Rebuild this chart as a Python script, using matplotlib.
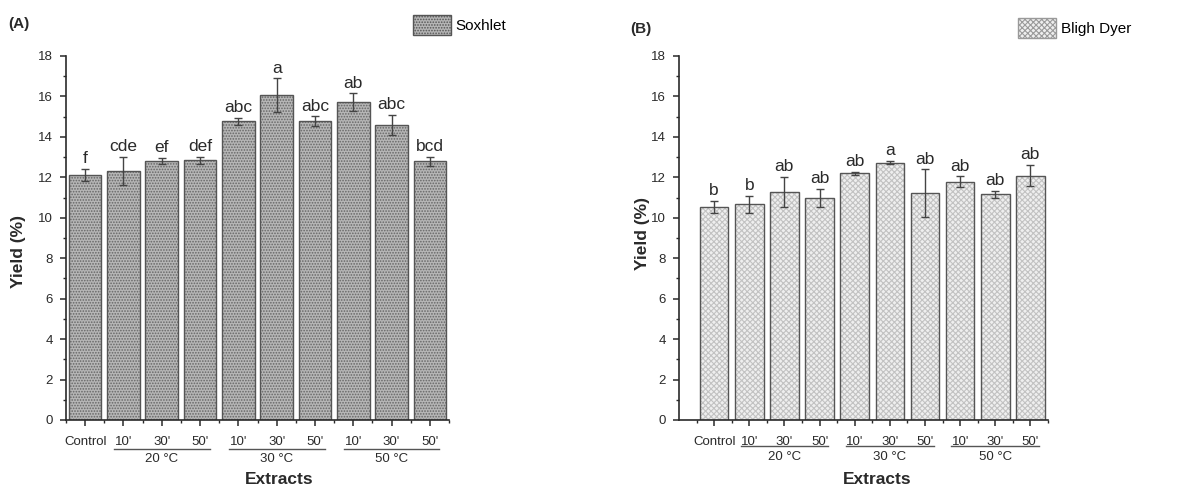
import numpy as np
import matplotlib
matplotlib.use("Agg")
import matplotlib.pyplot as plt
from matplotlib.patches import Patch
from matplotlib.ticker import MultipleLocator
import matplotlib.transforms as mtransforms

plt.rcParams['font.family'] = ['Liberation Sans', 'DejaVu Sans']
plt.rcParams['hatch.linewidth'] = 0.8

# extract labels (shared by both panels)
tick_labels = ["Control", "10'", "30'", "50'", "10'", "30'", "50'", "10'", "30'", "50'"]
groups = ["20 °C", "30 °C", "50 °C"]

# (A) Soxhlet yield, %
soxhlet_yield = [12.1, 12.3, 12.8, 12.85, 14.77, 16.07, 14.77, 15.72, 14.6, 12.8]
soxhlet_err = [0.3, 0.7, 0.16, 0.18, 0.16, 0.82, 0.24, 0.43, 0.5, 0.22]
soxhlet_letters = ["f", "cde", "ef", "def", "abc", "a", "abc", "ab", "abc", "bcd"]

# (B) Bligh Dyer yield, %
bligh_yield = [10.52, 10.66, 11.27, 10.98, 12.2, 12.73, 11.22, 11.79, 11.16, 12.08]
bligh_err = [0.3, 0.43, 0.75, 0.44, 0.07, 0.08, 1.17, 0.26, 0.18, 0.52]
bligh_letters = ["b", "b", "ab", "ab", "ab", "a", "ab", "ab", "ab", "ab"]

DARK = "#2a2a2a"


def draw_panel(ax, values, errors, letters, face, hatch, hatch_color, legend_edge,
               width, xmin, line_y, group_y, legend_name, legend_anchor):
    x = np.arange(1, len(values) + 1)
    # hatched fill first, then a plain outline on top
    ax.bar(x, values, width, color=face, edgecolor=hatch_color, hatch=hatch, linewidth=0)
    ax.bar(x, values, width, fill=False, edgecolor="#555555", linewidth=1.0)
    ax.errorbar(x, values, yerr=errors, fmt="none", ecolor="#444444", elinewidth=1.0,
                capsize=3, capthick=1.0)
    for xi, v, e, s in zip(x, values, errors, letters):
        ax.annotate(s, (xi, v + e), xytext=(0, 2), textcoords="offset points",
                    ha="center", va="bottom", fontsize=12.5, color=DARK)

    ax.set_xlim(xmin, len(values) + 0.5)
    ax.set_ylim(0, 18)
    ax.yaxis.set_major_locator(MultipleLocator(2))
    ax.yaxis.set_minor_locator(MultipleLocator(1))
    ax.set_xticks(x)
    ax.set_xticklabels(tick_labels)
    # minor ticks halfway between the bars
    minor = np.arange(0.5, len(values) + 0.51, 1.0)
    ax.set_xticks(minor[minor >= xmin], minor=True)
    for side in ("top", "right"):
        ax.spines[side].set_visible(False)
    for side in ("left", "bottom"):
        ax.spines[side].set_color(DARK)
        ax.spines[side].set_linewidth(1.2)
    ax.tick_params(which="major", direction="out", length=4.5, width=1.1, colors=DARK,
                   labelsize=9.5, pad=5)
    ax.tick_params(which="minor", direction="out", length=2.5, width=1.0, colors=DARK)
    ax.tick_params(axis="x", which="major", labelsize=9.5, pad=7)

    # temperature groups under the 10'/30'/50' ticks
    trans = mtransforms.blended_transform_factory(ax.transData, ax.transAxes)
    for i, g in enumerate(groups):
        x0, x1 = 2 + 3 * i, 4 + 3 * i
        ax.plot([x0 - 0.25, x1 + 0.25], [line_y, line_y], color="#555555", lw=1.0,
                transform=trans, clip_on=False)
        ax.text((x0 + x1) / 2, group_y, g, transform=trans, ha="center", va="center",
                fontsize=9.5, color=DARK)

    handle = Patch(facecolor=face, edgecolor=legend_edge, hatch=hatch, linewidth=1.0)
    ax.legend([handle], [legend_name], loc="upper left", bbox_to_anchor=legend_anchor,
              bbox_transform=ax.figure.transFigure, frameon=False, fontsize=11,
              handlelength=2.5, handleheight=1.6, handletextpad=0.3, borderpad=0,
              borderaxespad=0)


fig = plt.figure(figsize=(11.97, 4.88), dpi=100)
ax_a = fig.add_axes([66 / 1197, 1 - 420 / 488, (449 - 66) / 1197, 364 / 488])
ax_b = fig.add_axes([679 / 1197, 1 - 420 / 488, (1048 - 679) / 1197, 364 / 488])

draw_panel(ax_a, soxhlet_yield, soxhlet_err, soxhlet_letters, "#b6b6b6", "......",
           "#666666", "#555555", 0.85, 0.5, -0.08, -0.108, "Soxhlet",
           (413 / 1197, 1 - 15 / 488))
draw_panel(ax_b, bligh_yield, bligh_err, bligh_letters, "#efefef", "xxxxxx",
           "#c2c2c2", "#9a9a9a", 0.81, 0.0, -0.072, -0.102, "Bligh Dyer",
           (1018 / 1197, 1 - 18 / 488))

fig.text(8 / 1197, 1 - 24 / 488, "(A)", fontsize=11, fontweight="bold", color=DARK,
         va="center")
fig.text(630 / 1197, 1 - 29 / 488, "(B)", fontsize=11, fontweight="bold", color=DARK,
         va="center")
fig.text(19 / 1197, 1 - 252 / 488, "Yield (%)", rotation=90, fontsize=12.5,
         fontweight="bold", color=DARK, ha="center", va="center")
fig.text(643 / 1197, 1 - 233 / 488, "Yield (%)", rotation=90, fontsize=12.5,
         fontweight="bold", color=DARK, ha="center", va="center")
fig.text(279 / 1197, 1 - 480 / 488, "Extracts", fontsize=12.5, fontweight="bold",
         color=DARK, ha="center", va="center")
fig.text(877 / 1197, 1 - 480 / 488, "Extracts", fontsize=12.5, fontweight="bold",
         color=DARK, ha="center", va="center")

fig.savefig("out.png", dpi=100)
